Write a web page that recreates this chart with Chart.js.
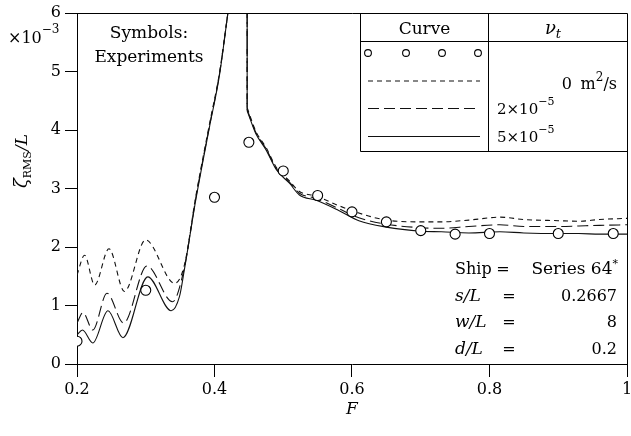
<!DOCTYPE html>
<html>
<head>
<meta charset="utf-8">
<script src="https://cdn.jsdelivr.net/npm/chart.js@4.4.1/dist/chart.umd.min.js"></script>
<style>
  html, body { margin: 0; padding: 0; background: #fff; }
  canvas { display: block; }
</style>
</head>
<body>
<canvas id="rmsChart" width="631" height="436"></canvas>
<script>
// Experimental RMS elevation (symbols), zeta/L in units of 1e-3
const expF    = [0.2, 0.3, 0.4, 0.45, 0.5, 0.55, 0.6, 0.65, 0.7, 0.75, 0.8, 0.9, 0.98];
const expZeta = [0.39, 1.26, 2.85, 3.79, 3.30, 2.88, 2.60, 2.43, 2.28, 2.22, 2.23, 2.23, 2.23];

// Computed curves below the critical speed (nu_t = 0, 2e-5, 5e-5)
const lowF_nu0 = [0.2, 0.211, 0.2257, 0.2465, 0.269, 0.2998, 0.342, 0.356, 0.373, 0.393, 0.407, 0.4195];
const lowZ_nu0 = [1.52, 1.86, 1.35, 1.97, 1.24, 2.12, 1.38, 1.68, 2.88, 4.12, 4.96, 6.0];
const lowF_nu2 = [0.2, 0.2087, 0.223, 0.2436, 0.2678, 0.3017, 0.339, 0.356, 0.373, 0.393, 0.407, 0.4195];
const lowZ_nu2 = [0.70, 0.88, 0.58, 1.21, 0.70, 1.675, 1.065, 1.64, 2.85, 4.09, 4.94, 6.0];
const lowF_nu5 = [0.2, 0.208, 0.223, 0.245, 0.2668, 0.303, 0.337, 0.349, 0.356, 0.373, 0.393, 0.407, 0.4195];
const lowZ_nu5 = [0.50, 0.58, 0.36, 0.91, 0.45, 1.49, 0.91, 1.15, 1.60, 2.82, 4.07, 4.92, 6.0];

// Computed curves above the critical speed
const highF     = [0.4475, 0.46, 0.475, 0.49, 0.509, 0.5235, 0.548, 0.58, 0.61, 0.65, 0.70, 0.73, 0.77, 0.815, 0.85, 0.90, 0.93, 0.96, 1.0];
const highZ_nu0 = [4.38, 3.98, 3.70, 3.36, 3.13, 2.95, 2.87, 2.71, 2.58, 2.46, 2.43, 2.43, 2.46, 2.51, 2.47, 2.45, 2.44, 2.47, 2.49];
const highZ_nu2 = [4.35, 3.96, 3.68, 3.34, 3.11, 2.92, 2.83, 2.66, 2.50, 2.39, 2.33, 2.32, 2.35, 2.38, 2.35, 2.35, 2.36, 2.37, 2.38];
const highZ_nu5 = [4.33, 3.94, 3.66, 3.32, 3.09, 2.89, 2.80, 2.63, 2.45, 2.34, 2.27, 2.26, 2.24, 2.26, 2.24, 2.23, 2.23, 2.22, 2.22];

// upper end of the jump at the critical speed (the axis top)
const jumpTop = 6.0;

const xTicks = [0.2, 0.4, 0.6, 0.8, 1];
const yTicks = [0, 1, 2, 3, 4, 5, 6];

const curveDash = [[5, 4], [11, 5], []];
const SERIF = "'DejaVu Serif', 'Liberation Serif', serif";
const font = (size, style) => (style ? style + ' ' : '') + size + 'px ' + SERIF;

const pts = (xs, ys) => xs.map((x, i) => ({ x: x, y: ys[i] }));

function curveSets(lowF, lowZ, highZ, dash) {
    const base = {
        showLine: true,
        borderColor: '#111',
        borderWidth: 1.1,
        borderDash: dash,
        pointRadius: 0,
        fill: false,
        order: 2
    };
    return [
        Object.assign({}, base, { data: pts(lowF, lowZ), cubicInterpolationMode: 'monotone' }),
        Object.assign({}, base, { data: pts([highF[0], highF[0]], [jumpTop, highZ[0]]), tension: 0 }),
        Object.assign({}, base, { data: pts(highF, highZ), cubicInterpolationMode: 'monotone' })
    ];
}

// draws a run of text pieces (for sub/superscripts); y is the baseline
function runs(ctx, x, y, parts, align) {
    let w = 0;
    parts.forEach(p => { ctx.font = p.font; w += ctx.measureText(p.t).width; });
    let cx = align === 'right' ? x - w : align === 'center' ? x - w / 2 : x;
    ctx.textAlign = 'left';
    ctx.textBaseline = 'alphabetic';
    parts.forEach(p => {
        ctx.font = p.font;
        ctx.fillText(p.t, cx, y + (p.dy || 0));
        cx += ctx.measureText(p.t).width;
    });
}

const overlay = {
    id: 'overlay',
    afterDraw(chart) {
        const ctx = chart.ctx;
        const a = chart.chartArea;
        ctx.save();
        ctx.strokeStyle = '#000';
        ctx.fillStyle = '#000';
        ctx.lineWidth = 1;

        // top and right edges of the frame
        ctx.beginPath();
        ctx.moveTo(a.left, a.top + 0.5);
        ctx.lineTo(a.right + 0.5, a.top + 0.5);
        ctx.lineTo(a.right + 0.5, a.bottom);
        ctx.stroke();

        // axis scale factor
        runs(ctx, 8, 43, [
            { t: '\u00d710', font: font(16) },
            { t: '\u22123', font: font(12), dy: -10 }
        ], 'left');

        // y axis title, rotated
        ctx.save();
        ctx.translate(21, 161);
        ctx.rotate(-Math.PI / 2);
        runs(ctx, 0, 6, [
            { t: '\u03b6', font: font(18, 'italic') },
            { t: 'RMS', font: font(11), dy: 4 },
            { t: '/L', font: font(17, 'italic') }
        ], 'center');
        ctx.restore();

        // note on symbols
        ctx.font = font(17);
        ctx.textAlign = 'center';
        ctx.textBaseline = 'alphabetic';
        ctx.fillText('Symbols:', 149, 38);
        ctx.fillText('Experiments', 149, 62);

        // legend table
        const L = 360.5, M = 488.5, R = a.right + 0.5, T = a.top + 0.5, H = 41.5, B = 151.5;
        ctx.beginPath();
        ctx.moveTo(L, T); ctx.lineTo(L, B); ctx.lineTo(R, B);
        ctx.moveTo(L, H); ctx.lineTo(R, H);
        ctx.moveTo(M, T); ctx.lineTo(M, B);
        ctx.stroke();

        runs(ctx, 424.5, 34, [{ t: 'Curve', font: font(17) }], 'center');
        runs(ctx, 553, 34, [
            { t: '\u03bd', font: font(18, 'italic') },
            { t: 't', font: font(13, 'italic'), dy: 4 }
        ], 'center');

        // symbol row
        ctx.lineWidth = 1.1;
        [368, 406, 442, 478].forEach(cx => {
            ctx.beginPath();
            ctx.arc(cx, 53, 3.4, 0, Math.PI * 2);
            ctx.fillStyle = '#fff';
            ctx.fill();
            ctx.stroke();
        });
        ctx.fillStyle = '#000';

        // line rows
        [81, 108.5, 136.5].forEach((y, i) => {
            ctx.save();
            ctx.strokeStyle = '#111';
            ctx.setLineDash(curveDash[i]);
            ctx.beginPath();
            ctx.moveTo(368, y);
            ctx.lineTo(480, y);
            ctx.stroke();
            ctx.restore();
        });

        runs(ctx, 572, 89, [{ t: '0', font: font(16) }], 'right');
        runs(ctx, 617, 89, [
            { t: 'm', font: font(16) },
            { t: '2', font: font(12), dy: -8 },
            { t: '/s', font: font(16) }
        ], 'right');
        runs(ctx, 497, 114, [
            { t: '2\u00d710', font: font(15) },
            { t: '\u22125', font: font(11), dy: -9 }
        ], 'left');
        runs(ctx, 497, 142, [
            { t: '5\u00d710', font: font(15) },
            { t: '\u22125', font: font(11), dy: -9 }
        ], 'left');

        // case parameters
        runs(ctx, 455, 273.5, [{ t: 'Ship', font: font(16) }], 'left');
        runs(ctx, 503, 273.5, [{ t: '=', font: font(16) }], 'center');
        runs(ctx, 618, 273.5, [
            { t: 'Series 64', font: font(17) },
            { t: '*', font: font(11), dy: -7 }
        ], 'right');
        const params = [['s/L', '0.2667', 300.5], ['w/L', '8', 327], ['d/L', '0.2', 354]];
        params.forEach(p => {
            runs(ctx, 455, p[2], [{ t: p[0], font: font(17, 'italic') }], 'left');
            runs(ctx, 509, p[2], [{ t: '=', font: font(16) }], 'center');
            runs(ctx, 617, p[2], [{ t: p[1], font: font(16) }], 'right');
        });

        ctx.restore();
    }
};

const datasets = [
    {
        data: pts(expF, expZeta),
        showLine: false,
        pointStyle: 'circle',
        pointRadius: 5,
        pointBorderWidth: 1.1,
        pointBorderColor: '#000',
        pointBackgroundColor: '#fff',
        order: 0
    }
].concat(
    curveSets(lowF_nu0, lowZ_nu0, highZ_nu0, curveDash[0]),
    curveSets(lowF_nu2, lowZ_nu2, highZ_nu2, curveDash[1]),
    curveSets(lowF_nu5, lowZ_nu5, highZ_nu5, curveDash[2])
);

new Chart(document.getElementById('rmsChart'), {
    type: 'scatter',
    data: { datasets: datasets },
    options: {
        responsive: false,
        animation: false,
        devicePixelRatio: 1,
        layout: { autoPadding: false, padding: { top: 13, right: 4, left: 0, bottom: 0 } },
        plugins: { legend: { display: false }, tooltip: { enabled: false } },
        scales: {
            x: {
                type: 'linear',
                min: 0.2,
                max: 1,
                afterFit: s => { s.height = 72; s.paddingLeft = 0; s.paddingRight = 0; },
                afterBuildTicks: s => { s.ticks = xTicks.map(v => ({ value: v })); },
                ticks: {
                    color: '#000',
                    font: { family: SERIF, size: 16 },
                    padding: 3,
                    maxRotation: 0,
                    callback: v => String(v)
                },
                grid: { drawOnChartArea: false, drawTicks: true, tickLength: 13, color: '#000', tickWidth: 1 },
                border: { color: '#000', width: 1 },
                title: {
                    display: true,
                    text: 'F',
                    color: '#000',
                    font: { family: SERIF, size: 17, style: 'italic' },
                    padding: { top: 0, bottom: 16 }
                }
            },
            y: {
                type: 'linear',
                min: 0,
                max: 6,
                afterFit: s => { s.width = 77; s.paddingTop = 0; s.paddingBottom = 0; },
                afterBuildTicks: s => { s.ticks = yTicks.map(v => ({ value: v })); },
                ticks: {
                    color: '#000',
                    font: { family: SERIF, size: 16 },
                    padding: 4
                },
                grid: { drawOnChartArea: false, drawTicks: true, tickLength: 12, color: '#000', tickWidth: 1 },
                border: { color: '#000', width: 1 }
            }
        }
    },
    plugins: [overlay]
});
</script>
</body>
</html>
